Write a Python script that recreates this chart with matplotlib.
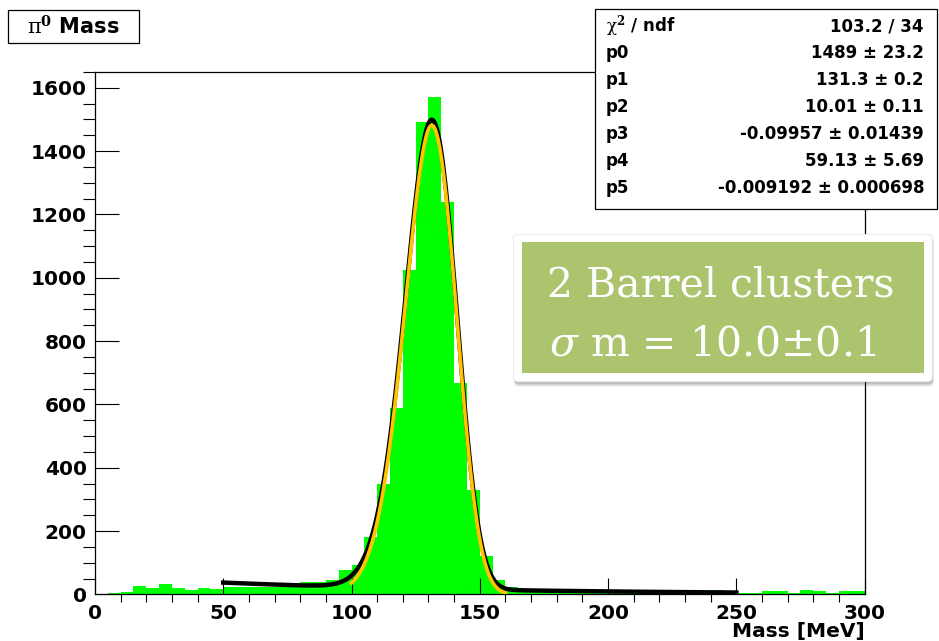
import numpy as np
import matplotlib.pyplot as plt
from matplotlib.patches import FancyBboxPatch, Rectangle
from matplotlib.ticker import MultipleLocator

plt.rcParams['font.family'] = ['DejaVu Sans']

W, H = 939, 641

# pi0 candidate mass spectrum, 5 MeV bins from 0 to 300 MeV
bin_edges = np.arange(0, 301, 5)
counts = [0, 4, 8, 27, 21, 34, 21, 15, 21, 17,
          24, 24, 24, 24, 22, 24, 40, 38, 45, 77,
          93, 182, 348, 590, 1024, 1493, 1571, 1238, 667, 330,
          122, 45, 22, 18, 12, 9, 10, 8, 9, 7,
          8, 6, 7, 5, 6, 4, 5, 4, 15, 6,
          6, 5, 10, 10, 3, 15, 12, 4, 11, 11]

# fit results: Novosibirsk peak (p0..p3) + exponential background (p4, p5)
par_names = ['p0', 'p1', 'p2', 'p3', 'p4', 'p5']
par = [1489, 131.3, 10.01, -0.09957, 59.13, -0.009192]
err = [23.2, 0.2, 0.11, 0.01439, 5.69, 0.000698]
chi2, ndf = 103.2, 34
fit_range = (50, 250)
peak_range = (100, 160)

x_ticks = np.arange(0, 301, 50)
y_ticks = np.arange(0, 1601, 200)


def novosibirsk(x, norm, peak, width, tail):
    qa = tail * np.sqrt(np.log(4.0))
    qb = np.sinh(qa) / qa
    qy = 1.0 + tail * (x - peak) / width * qb
    qc = np.where(qy > 1e-7,
                  0.5 * ((np.log(np.clip(qy, 1e-7, None)) / tail) ** 2 + tail ** 2),
                  15.0)
    return norm * np.exp(-qc)


def total(x):
    return novosibirsk(x, *par[:4]) + par[4] * np.exp(par[5] * x)


def fx(px):
    return px / W


def fy(py):
    return 1 - py / H


fig = plt.figure(figsize=(W / 100, H / 100), dpi=100)
ax = fig.add_axes([fx(95), fy(594.4), (864.6 - 95) / W, (594.4 - 72) / H])

ax.stairs(counts, bin_edges, fill=True, color='#00ff00', linewidth=0)

xf = np.linspace(*fit_range, 400)
ax.plot(xf, total(xf), color='black', lw=3.2, zorder=3)
xp = np.linspace(*peak_range, 200)
ax.plot(xp, novosibirsk(xp, *par[:4]), color='#ffc400', lw=2.6, zorder=4)

ax.set_xlim(0, 300)
ax.set_ylim(0, 1650)
ax.set_xticks(x_ticks)
ax.set_yticks(y_ticks)
ax.xaxis.set_minor_locator(MultipleLocator(10))
ax.yaxis.set_minor_locator(MultipleLocator(50))
ax.tick_params(direction='in', top=False, right=False, labelsize=14.5,
               width=0.8, color='black')
ax.tick_params(axis='x', which='major', length=11.5, pad=7)
ax.tick_params(axis='x', which='minor', length=5.5, width=0.8)
ax.tick_params(axis='y', which='major', length=17, pad=6)
ax.tick_params(axis='y', which='minor', length=8.5, width=0.8)
for lbl in ax.get_xticklabels() + ax.get_yticklabels():
    lbl.set_fontweight('bold')
for s in ax.spines.values():
    s.set_linewidth(0.9)

fig.text(fx(864.6), fy(622), 'Mass [MeV]', ha='right', va='top', fontsize=14.5,
         fontweight='bold')

# histogram title box
fig.add_artist(Rectangle((fx(7.5), fy(42.7)), (139.3 - 7.5) / W, (42.7 - 10) / H,
                         transform=fig.transFigure, facecolor='white',
                         edgecolor='black', lw=0.9))
fig.text(fx(73.5), fy(27), r'$\mathrm{\pi}^{\mathbf{0}}$ Mass', ha='center', va='center',
         fontsize=15, fontweight='bold', math_fontfamily='dejavuserif')

# fit statistics box
fig.add_artist(Rectangle((fx(595), fy(209.3)), (936.5 - 595) / W, (209.3 - 9.3) / H,
                         transform=fig.transFigure, facecolor='white',
                         edgecolor='black', lw=0.9, zorder=5))
rows = [(r'$\mathrm{\chi}^{\mathbf{2}}$ / ndf', '{:.4g} / {}'.format(chi2, ndf))]
for name, v, e in zip(par_names, par, err):
    rows.append((name, '{:.4g} ± {:.4g}'.format(v, e)))
for i, (lab, val) in enumerate(rows):
    yy = fy(26.5 + i * 26.9)
    fig.text(fx(606), yy, lab, ha='left', va='center', fontsize=12, fontweight='bold',
             math_fontfamily='dejavuserif', zorder=6)
    fig.text(fx(924), yy, val, ha='right', va='center', fontsize=12, fontweight='bold',
             zorder=6)

# result callout with soft shadow
for k, a in enumerate([0.10, 0.10, 0.12, 0.14]):
    d = 4 - k
    fig.add_artist(FancyBboxPatch((fx(513.3 + 1), fy(381.7 + 1 + d)), (932.3 - 513.3) / W,
                                  (381.7 - 234.3) / H,
                                  boxstyle='round,pad=0,rounding_size=0.006',
                                  transform=fig.transFigure, facecolor='#555555',
                                  edgecolor='none', alpha=a, zorder=7))
fig.add_artist(FancyBboxPatch((fx(513.3), fy(381.7)), (932.3 - 513.3) / W,
                              (381.7 - 234.3) / H,
                              boxstyle='round,pad=0,rounding_size=0.006',
                              transform=fig.transFigure, facecolor='white',
                              edgecolor='#e6e6e6', lw=0.6, zorder=8))
fig.add_artist(Rectangle((fx(521.7), fy(373.3)), (924 - 521.7) / W, (373.3 - 241.7) / H,
                         transform=fig.transFigure, facecolor='#adc46f',
                         edgecolor='none', zorder=9))
fig.text(fx(720.5), fy(296.7), '2 Barrel clusters', ha='center', va='baseline',
         family='DejaVu Serif', fontsize=29.5, color='white', zorder=10)
fig.text(fx(712.5), fy(355), r'$\sigma$ m = 10.0±0.1', ha='center', va='baseline',
         family='DejaVu Serif', fontsize=29.5, color='white',
         math_fontfamily='dejavuserif', zorder=10)

fig.savefig('out.png', dpi=100)
